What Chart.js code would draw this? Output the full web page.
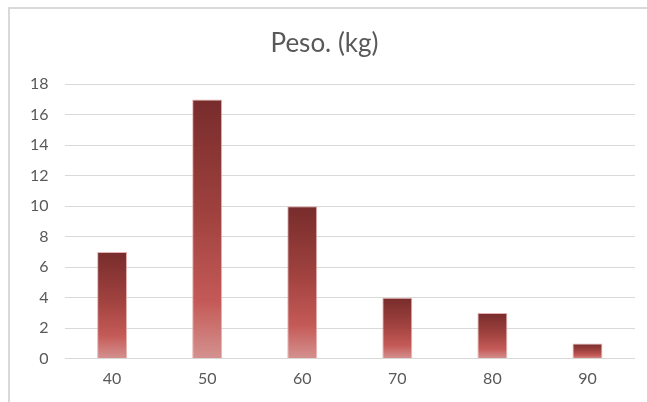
<!DOCTYPE html>
<html>
<head>
<meta charset="utf-8">
<script src="https://cdn.jsdelivr.net/npm/chart.js@4/dist/chart.umd.min.js"></script>
<style>
  html, body { margin: 0; padding: 0; background: #ffffff; }
  #wrap { position: relative; width: 647px; height: 402px; overflow: hidden; }
  #frame { position: absolute; left: 8px; top: 7px; right: -4px; bottom: -4px;
           border-left: 2px solid #d9d9d9; border-top: 2px solid #d9d9d9; }
  canvas { position: absolute; left: 0; top: 0; }
</style>
</head>
<body>
<div id="wrap">
  <div id="frame"></div>
  <canvas id="c" width="647" height="402"></canvas>
</div>
<script>
// Weight classes (kg) and how many people fall in each
const categories = ['40', '50', '60', '70', '80', '90'];
const counts = [7, 17, 10, 4, 3, 1];
const yTicks = [0, 2, 4, 6, 8, 10, 12, 14, 16, 18];

const FONT = "Lato, 'Open Sans', 'Noto Sans', sans-serif";
const TEXT = '#595959';

// Each bar gets its own vertical gradient, dark at the top and light at the base
function barGradient(ctx) {
  const chart = ctx.chart;
  const yScale = chart.scales && chart.scales.y;
  if (!chart.chartArea || !yScale || ctx.dataIndex === undefined) return '#c0504d';
  const v = ctx.dataset.data[ctx.dataIndex];
  const top = yScale.getPixelForValue(v);
  const base = yScale.getPixelForValue(0);
  if (!isFinite(top) || !isFinite(base) || base - top < 1) return '#c0504d';
  const g = chart.ctx.createLinearGradient(0, top, 0, base);
  g.addColorStop(0, '#772c2b');
  g.addColorStop(0.45, '#a0423f');
  g.addColorStop(0.78, '#c45a57');
  g.addColorStop(1, '#d49290');
  return g;
}

new Chart(document.getElementById('c'), {
  type: 'bar',
  data: {
    labels: categories,
    datasets: [{
      label: 'Peso. (kg)',
      data: counts,
      backgroundColor: barGradient,
      borderColor: 'rgba(226,170,168,0.9)',
      borderWidth: 1,
      barPercentage: 0.63,
      categoryPercentage: 0.5
    }]
  },
  options: {
    responsive: false,
    animation: false,
    events: [],
    layout: { padding: { left: 14, right: 12, top: 14, bottom: 4 } },
    plugins: {
      legend: { display: false },
      tooltip: { enabled: false },
      title: {
        display: true,
        text: 'Peso. (kg)',
        color: TEXT,
        font: { family: FONT, size: 26, weight: 'normal' },
        padding: { top: 14, bottom: 25 }
      }
    },
    scales: {
      x: {
        grid: { display: false, drawTicks: false },
        border: { display: false },
        ticks: { color: TEXT, font: { family: FONT, size: 16 }, padding: 10, maxRotation: 0 }
      },
      y: {
        min: 0,
        max: 18,
        afterBuildTicks: (axis) => { axis.ticks = yTicks.map(v => ({ value: v })); },
        grid: { color: '#d9d9d9', lineWidth: 1, drawTicks: false },
        border: { display: false },
        ticks: { color: TEXT, font: { family: FONT, size: 16 }, padding: 16 }
      }
    }
  }
});
</script>
</body>
</html>
